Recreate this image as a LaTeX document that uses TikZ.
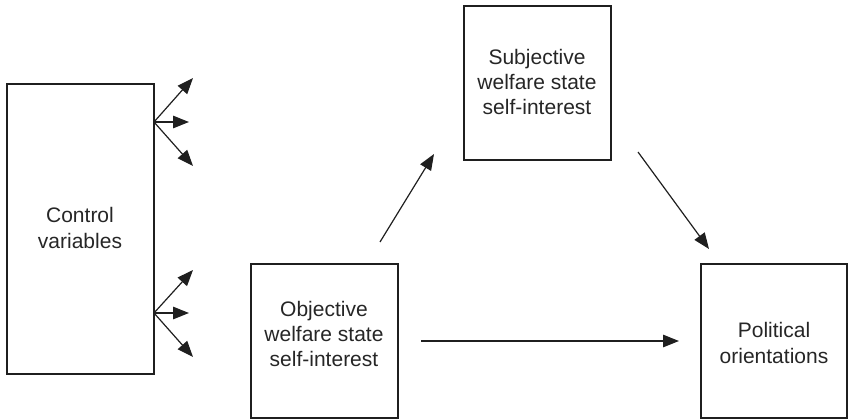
\documentclass[tikz,border=0pt]{standalone}
\usepackage{fontspec}
\setmainfont{Liberation Sans}
\usetikzlibrary{arrows.meta}
\begin{document}
\begin{tikzpicture}[x=1pt,y=-1pt,
  box/.style={draw=black!88,line width=1.3pt},
  lbl/.style={align=center,font=\fontsize{21}{25.3}\selectfont,text=black!85,inner sep=0pt},
  arr/.style={draw=black!88,line width=1.2pt,-{Triangle[length=16pt,width=12.5pt]}}]
\useasboundingbox (0,0) rectangle (849,420);
% boxes
\draw[box] (7,84) rectangle (154,374);
\draw[box] (251,264) rectangle (398,418);
\draw[box] (464,6) rectangle (611,160);
\draw[box] (701,264) rectangle (847,418);
% labels
\node[lbl] (ctrl) at (80,228) {Control\\variables};
\node[lbl] (obj) at (324,334) {Objective\\welfare state\\self-interest};
\node[lbl] (subj) at (537,82) {Subjective\\welfare state\\self-interest};
\node[lbl] (pol) at (774,343) {Political\\orientations};
% control arrows
\coordinate (cu) at (154,122);
\coordinate (cl) at (154,313);
\coordinate (cu1) at (193,78);
\coordinate (cu2) at (189,122);
\coordinate (cu3) at (193,166);
\coordinate (cl1) at (193,270);
\coordinate (cl2) at (189,313);
\coordinate (cl3) at (193,357);
\draw[arr] (cu) -- (cu1);
\draw[arr] (cu) -- (cu2);
\draw[arr] (cu) -- (cu3);
\draw[arr] (cl) -- (cl1);
\draw[arr] (cl) -- (cl2);
\draw[arr] (cl) -- (cl3);
% main arrows
\coordinate (a1s) at (380,242);
\coordinate (a1e) at (434,154);
\coordinate (a2s) at (638,152);
\coordinate (a2e) at (709,249);
\coordinate (a3s) at (421,341);
\coordinate (a3e) at (679,341);
\draw[arr] (a1s) -- (a1e);
\draw[arr] (a2s) -- (a2e);
\draw[arr] (a3s) -- (a3e);
\end{tikzpicture}
\end{document}
